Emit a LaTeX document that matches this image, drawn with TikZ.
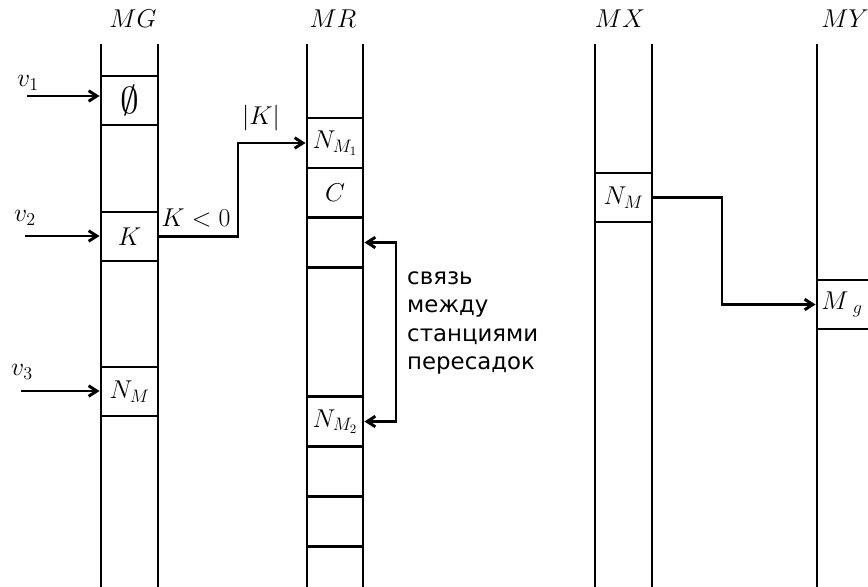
\RequirePackage{fix-cm}
\documentclass[tikz,border=0pt]{standalone}
\usepackage{fontspec}
\newfontfamily\notefont{DejaVu Sans}
\usetikzlibrary{arrows.meta}
\tikzset{
  tip/.tip={Straight Barb[length=7pt,width=9pt]},
  col/.style={line width=2.5pt},
  cell/.style={draw,line width=2.5pt,minimum width=1.71cm,minimum height=1.47cm,inner sep=0pt},
  rcell/.style={cell,minimum width=1.68cm,minimum height=1.5cm},
  link/.style={line width=2.5pt,-tip},
  lbl/.style={inner sep=0pt},
}
\begin{document}
\begin{tikzpicture}[x=0.03cm,y=-0.03cm,font=\fontsize{22}{26}\selectfont]
  \clip (0,0) rectangle (868,586);
  % columns
  \draw[col] (101,44)--(101,590) (158,44)--(158,590);
  \draw[col] (307,44)--(307,590) (363,44)--(363,590);
  \draw[col] (595,44)--(595,590) (652,44)--(652,590);
  \draw[col] (817,44)--(817,590) (874,44)--(874,590);
  \node[lbl] (lMG) at (133,19) {$MG$};
  \node[lbl] (lMR) at (333,19) {$MR$};
  \node[lbl] (lMX) at (620,19) {$MX$};
  \node[lbl] (lMY) at (845,19) {$MY$};
  % cells
  \node[cell,font=\fontsize{32}{36}\selectfont] (g1) at (129.5,100.5) {$\emptyset$};
  \node[cell] (g2) at (129.5,236.5) {$K$};
  \node[cell] (g3) at (129.5,391.5) {$N_M$};
  \node[rcell] (r1) at (335,143) {$N_{M_1}$};
  \node[rcell] (r2) at (335,193) {$C$};
  \node[rcell] (r3) at (335,242.5) {};
  \node[rcell] (r4) at (335,421.5) {$N_{M_2}$};
  \node[rcell] (r5) at (335,471.5) {};
  \node[rcell] (r6) at (335,521.5) {};
  \node[cell] (x1) at (623.5,197.5) {$N_M$};
  \node[cell] (y1) at (845.5,304.5) {\hspace*{-0.21cm}$M_{\hspace{6pt}g}$};
  % inputs
  \coordinate (v1) at (27,96);
  \coordinate (v2) at (25,236);
  \coordinate (v3) at (21,391);
  \node[lbl] at (28,83) {$v_1$};
  \node[lbl] at (25,218) {$v_2$};
  \node[lbl] at (22,372) {$v_3$};
  \draw[link] (v1)--(v1 -| g1.west);
  \draw[link] (v2)--(v2 -| g2.west);
  \draw[link] (v3)--(v3 -| g3.west);
  % links
  \draw[link] (g2.east)--(238,236.5) |- (r1.west);
  \node[lbl] at (196,218) {$K<0$};
  \node[lbl] at (261,118) {$|K|$};
  \draw[link,tip-tip] (r3.east)--(396,242.5) |- (r4.east);
  \node[lbl,anchor=west,align=left,font=\notefont\fontsize{19.5}{24.3}\selectfont] (nt) at (407,323)
    {связь\\между\\станциями\\пересадок};
  \draw[link] (x1.east)--(722,197.5) |- (y1.west);
\end{tikzpicture}
\end{document}
